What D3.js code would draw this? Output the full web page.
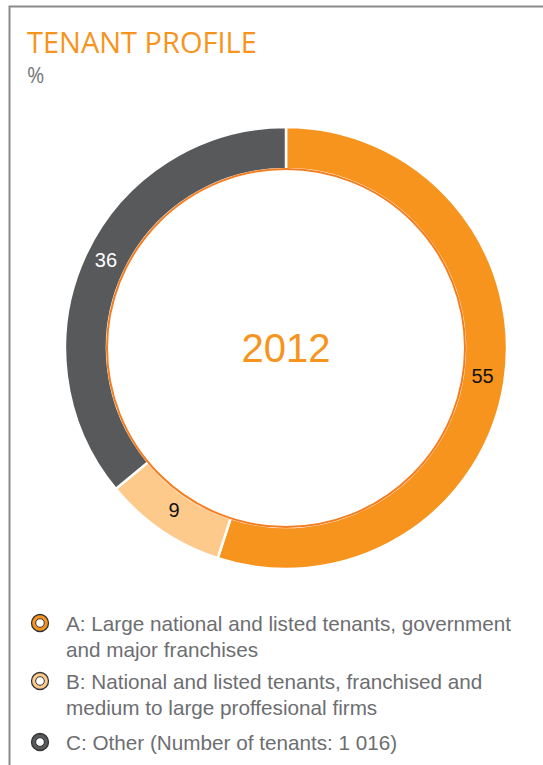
<!DOCTYPE html>
<html>
<head>
<meta charset="utf-8">
<script src="https://cdn.jsdelivr.net/npm/d3@7"></script>
<style>
  html, body { margin: 0; padding: 0; background: #fff; }
  svg { display: block; }
</style>
</head>
<body>
<svg id="chart" width="543" height="765"></svg>
<script>
// Tenant profile shares, in percent
const categories = ["A", "B", "C"];
const shares = [55, 9, 36];
const sliceColors = ["#f7941d", "#fdca8c", "#58595b"];
const labelColors = ["#111111", "#111111", "#ffffff"];
const centerLabel = "2012";
const legendLines = [
  ["A: Large national and listed tenants, government", "and major franchises"],
  ["B: National and listed tenants, franchised and", "medium to large proffesional firms"],
  ["C: Other (Number of tenants: 1 016)"]
];

const svg = d3.select("#chart");
const W = 543, H = 765;

// Frame (top and left rules)
svg.append("path")
  .attr("d", `M9.5,${H} V6.5 H${W}`)
  .attr("fill", "none")
  .attr("stroke", "#8a8a8a")
  .attr("stroke-width", 2);

// Title and unit
svg.append("text")
  .attr("x", 27).attr("y", 53)
  .attr("font-family", "'Open Sans', sans-serif")
  .attr("font-size", 29)
  .attr("fill", "#f7941d")
  .text("TENANT PROFILE");
svg.append("text")
  .attr("x", 27).attr("y", 83)
  .attr("font-family", "'Open Sans', sans-serif")
  .attr("font-size", 21)
  .attr("fill", "#77787b")
  .text("%");

// Donut
const cx = 286, cy = 348, rOuter = 221, rInner = 179;
const g = svg.append("g").attr("transform", `translate(${cx},${cy})`);

const pie = d3.pie().sort(null).value(d => d.v);
const data = categories.map((c, i) => ({ c, v: shares[i], i }));
const arcs = pie(data);
const arc = d3.arc().innerRadius(rInner).outerRadius(rOuter);

g.selectAll("path.slice")
  .data(arcs)
  .join("path")
  .attr("class", "slice")
  .attr("d", arc)
  .attr("fill", d => sliceColors[d.data.i])
  .attr("stroke", "#fff")
  .attr("stroke-width", 2.5);

// Inner rim
g.append("circle")
  .attr("r", rInner)
  .attr("fill", "#fff")
  .attr("stroke", "#f47d20")
  .attr("stroke-width", 2);

// Value labels
const labelArc = d3.arc().innerRadius(199).outerRadius(199);
g.selectAll("text.val")
  .data(arcs)
  .join("text")
  .attr("class", "val")
  .attr("transform", d => `translate(${labelArc.centroid(d)})`)
  .attr("text-anchor", "middle")
  .attr("dy", "0.2em")
  .attr("font-family", "'Liberation Sans', Arial, sans-serif")
  .attr("font-size", 20)
  .attr("fill", d => labelColors[d.data.i])
  .text(d => d.data.v);

// Center year
g.append("text")
  .attr("text-anchor", "middle")
  .attr("y", 14)
  .attr("font-family", "'Liberation Sans', Arial, sans-serif")
  .attr("font-size", 40)
  .attr("fill", "#f7941d")
  .text(centerLabel);

// Legend
const legendBase = [631, 689, 750];
const lineStep = 26;
const leg = svg.append("g");
legendLines.forEach((lines, i) => {
  const y = legendBase[i] - 8;
  leg.append("circle")
    .attr("cx", 40).attr("cy", y).attr("r", 8.5)
    .attr("fill", sliceColors[i])
    .attr("stroke", "#333333").attr("stroke-width", 1.3);
  leg.append("circle")
    .attr("cx", 40).attr("cy", y).attr("r", 4.3)
    .attr("fill", "#fff")
    .attr("stroke", "#333333").attr("stroke-width", 1);
  lines.forEach((t, j) => {
    leg.append("text")
      .attr("x", 66).attr("y", legendBase[i] + j * lineStep)
      .attr("font-family", "'Liberation Sans', Arial, sans-serif")
      .attr("font-size", 20.7)
      .attr("fill", "#6d6e71")
      .text(t);
  });
});
</script>
</body>
</html>
